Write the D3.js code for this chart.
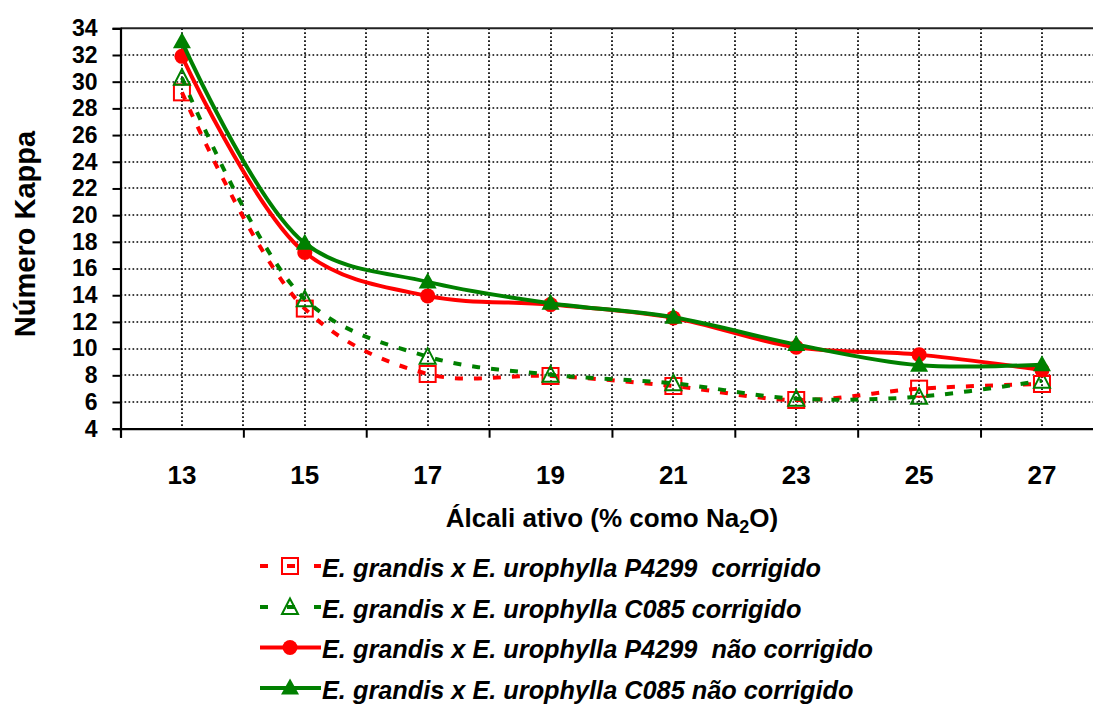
<!DOCTYPE html>
<html>
<head>
<meta charset="utf-8">
<script src="https://cdn.jsdelivr.net/npm/d3@7"></script>
<style>
  html, body { margin: 0; padding: 0; background: #fff; }
  svg { display: block; font-family: "Liberation Sans", Arial, sans-serif; }
</style>
</head>
<body>
<svg id="chart" width="1093" height="705"></svg>
<script>
// Kappa number vs. active alkali charge
const alkali = [13, 15, 17, 19, 21, 23, 25, 27];
const p4299Corrigido = [29.2, 13.0, 8.1, 7.95, 7.2, 6.15, 7.0, 7.35];
const c085Corrigido = [30.3, 13.7, 9.4, 8.05, 7.4, 6.25, 6.4, 7.6];
const p4299NaoCorrigido = [31.9, 17.2, 13.95, 13.3, 12.3, 10.1, 9.55, 8.4];
const c085NaoCorrigido = [33.0, 17.9, 15.0, 13.4, 12.35, 10.3, 8.75, 8.8];
const yTicks = [4, 6, 8, 10, 12, 14, 16, 18, 20, 22, 24, 26, 28, 30, 32, 34];
const seriesNames = [
  "E. grandis x E. urophylla P4299  corrigido",
  "E. grandis x E. urophylla C085 corrigido",
  "E. grandis x E. urophylla P4299  não corrigido",
  "E. grandis x E. urophylla C085 não corrigido"
];

const RED = "#ff0000", GREEN = "#008000";
const series = [
  { name: seriesNames[0], values: p4299Corrigido, color: RED, dashed: true, marker: "square" },
  { name: seriesNames[1], values: c085Corrigido, color: GREEN, dashed: true, marker: "openTriangle" },
  { name: seriesNames[2], values: p4299NaoCorrigido, color: RED, dashed: false, marker: "circle" },
  { name: seriesNames[3], values: c085NaoCorrigido, color: GREEN, dashed: false, marker: "triangle" }
];

const svg = d3.select("#chart");
const plot = { left: 120.5, top: 28.3, right: 1103.4, bottom: 428.7 };

const x = d3.scaleLinear().domain([12, 28]).range([plot.left, plot.right]);
const y = d3.scaleLinear().domain([4, 34]).range([plot.bottom, plot.top]);

// dotted grid
const grid = svg.append("g").attr("stroke", "#000").attr("stroke-width", 1.7)
  .attr("stroke-dasharray", "1.7,2.3");
grid.selectAll(".h").data(yTicks.filter(t => t > 4 && t < 34)).join("line")
  .attr("x1", plot.left).attr("x2", plot.right)
  .attr("y1", d => Math.round(y(d))).attr("y2", d => Math.round(y(d)));
grid.selectAll(".v").data(d3.range(13, 28)).join("line")
  .attr("y1", plot.top).attr("y2", plot.bottom)
  .attr("x1", d => Math.round(x(d))).attr("x2", d => Math.round(x(d)));

// frame: top border
svg.append("line").attr("x1", plot.left).attr("x2", plot.right)
  .attr("y1", plot.top).attr("y2", plot.top)
  .attr("stroke", "#222").attr("stroke-width", 2);

// y axis
const yAxis = d3.axisLeft(y).tickValues(yTicks).tickSize(8).tickPadding(15);
const gy = svg.append("g").attr("transform", `translate(${plot.left},0)`).call(yAxis);
gy.select(".domain").attr("stroke", "#000").attr("stroke-width", 2.2);
gy.selectAll(".tick line").attr("stroke", "#000").attr("stroke-width", 2);
gy.selectAll(".tick text").attr("font-size", 23).attr("font-weight", "bold")
  .attr("fill", "#000").attr("font-family", "Liberation Sans, Arial, sans-serif");

// x axis: tick marks on even boundaries, labels at odd category centres
const xAxis = d3.axisBottom(x).tickValues(d3.range(12, 29, 2)).tickSize(9).tickFormat("");
const gx = svg.append("g").attr("transform", `translate(0,${plot.bottom})`).call(xAxis);
gx.select(".domain").attr("stroke", "#000").attr("stroke-width", 2.2);
gx.selectAll(".tick line").attr("stroke", "#000").attr("stroke-width", 2);
svg.append("g").selectAll("text").data(alkali).join("text")
  .attr("x", d => x(d)).attr("y", 484)
  .attr("text-anchor", "middle").attr("font-size", 26).attr("font-weight", "bold")
  .text(d => d);

// axis titles
svg.append("text")
  .attr("transform", `translate(35,234) rotate(-90)`)
  .attr("text-anchor", "middle").attr("font-size", 29).attr("font-weight", "bold")
  .text("Número Kappa");

const xt = svg.append("text")
  .attr("x", (plot.left + plot.right) / 2).attr("y", 527)
  .attr("text-anchor", "middle").attr("font-size", 26).attr("font-weight", "bold");
xt.append("tspan").text("Álcali ativo (% como Na");
xt.append("tspan").attr("font-size", 18).attr("dy", 6).text("2");
xt.append("tspan").attr("dy", -6).text("O)");

// markers
function drawMarker(g, type, color, cx, cy) {
  if (type === "square") {
    g.append("rect").attr("x", cx - 8).attr("y", cy - 8).attr("width", 16).attr("height", 16)
      .attr("fill", "none").attr("stroke", color).attr("stroke-width", 2);
  } else if (type === "openTriangle") {
    g.append("path").attr("d", `M${cx},${cy - 8.5}L${cx + 8},${cy + 7}L${cx - 8},${cy + 7}Z`)
      .attr("fill", "none").attr("stroke", color).attr("stroke-width", 2);
  } else if (type === "circle") {
    g.append("circle").attr("cx", cx).attr("cy", cy).attr("r", 7.5).attr("fill", color);
  } else {
    g.append("path").attr("d", `M${cx},${cy - 9.5}L${cx + 9},${cy + 6.5}L${cx - 9},${cy + 6.5}Z`)
      .attr("fill", color);
  }
}

const line = d3.line()
  .x((d, i) => x(alkali[i]))
  .y(d => y(d))
  .curve(d3.curveCatmullRom.alpha(0.5));

series.forEach(s => {
  const g = svg.append("g");
  g.append("path").attr("d", line(s.values))
    .attr("fill", "none").attr("stroke", s.color)
    .attr("stroke-width", 4)
    .attr("stroke-dasharray", s.dashed ? "8,11" : null)
    .attr("stroke-linejoin", "round");
  s.values.forEach((v, i) => drawMarker(g, s.marker, s.color, x(alkali[i]), y(v)));
});

// legend
const legend = svg.append("g");
const legendRowY = [566, 607, 647.5, 688];
series.forEach((s, i) => {
  const ly = legendRowY[i];
  const g = legend.append("g");
  g.append("line").attr("x1", 260).attr("x2", 321).attr("y1", ly).attr("y2", ly)
    .attr("stroke", s.color).attr("stroke-width", 4)
    .attr("stroke-dasharray", s.dashed ? "8,19" : null);
  drawMarker(g, s.marker, s.color, 290, ly);
  g.append("text").attr("x", 322).attr("y", ly + 10.5)
    .attr("font-size", 25.3).attr("font-weight", "bold").attr("font-style", "italic")
    .attr("xml:space", "preserve").style("white-space", "pre")
    .text(s.name);
});
</script>
</body>
</html>
